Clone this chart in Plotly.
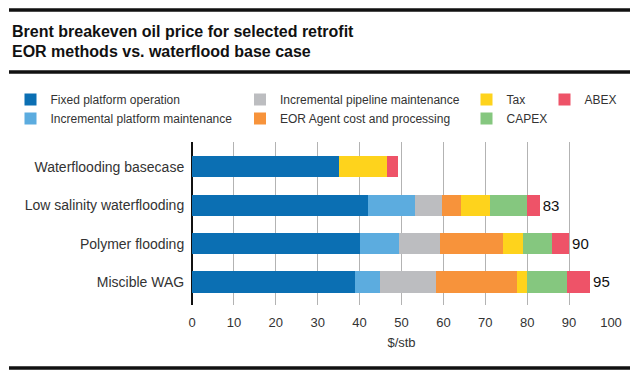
import plotly.graph_objects as go

categories = ["Waterflooding basecase", "Low salinity waterflooding", "Polymer flooding", "Miscible WAG"]

fixed_platform = [35.0, 42.0, 40.1, 38.8]
incr_platform = [0.0, 11.3, 9.3, 6.0]
incr_pipeline = [0.0, 6.3, 9.7, 13.5]
eor_agent = [0.0, 4.6, 15.1, 19.2]
tax = [11.5, 6.9, 4.9, 2.5]
capex = [0.0, 8.9, 6.7, 9.5]
abex = [2.7, 3.0, 4.2, 5.5]
total_labels = ["", "83", "90", "95"]

x_ticks = [0, 10, 20, 30, 40, 50, 60, 70, 80, 90, 100]

series = [
    ("Fixed platform operation", fixed_platform, "#0b6fb3", "legend", 1),
    ("Incremental platform maintenance", incr_platform, "#5cacdf", "legend", 2),
    ("Incremental pipeline maintenance", incr_pipeline, "#bcbdc0", "legend2", 1),
    ("EOR Agent cost and processing", eor_agent, "#f7933b", "legend2", 2),
    ("Tax", tax, "#fed31c", "legend3", 1),
    ("CAPEX", capex, "#85c77f", "legend3", 2),
    ("ABEX", abex, "#ee5368", "legend4", 1),
]

W, H = 640, 378
ML, MR, MT, MB = 192, 29, 142, 73
PW, PH = W - ML - MR, H - MT - MB

def px_x(p):
    return (p - ML) / PW

def px_y(p):
    return (H - MB - p) / PH

fig = go.Figure()
for name, vals, color, leg, rank in series:
    kw = {}
    if name == "ABEX":
        kw = dict(text=total_labels, textposition="outside", cliponaxis=False,
                  textfont=dict(size=15, color="#111", family="Liberation Sans, Arial"))
    fig.add_trace(go.Bar(
        y=categories, x=vals, name=name, orientation="h",
        marker=dict(color=color, line=dict(width=0)),
        legend=leg, legendrank=rank, hoverinfo="skip", **kw
    ))

leg_common = dict(orientation="v", xanchor="left", yanchor="top",
                  font=dict(size=12, color="#333", family="Liberation Sans, Arial"),
                  bgcolor="rgba(0,0,0,0)", itemwidth=30, tracegroupgap=0,
                  xref="container", yref="container", traceorder="normal")
lx = [10.5, 240, 466.5, 544.5]
ly = 1 - 85 / H
fig.update_layout(
    legend=dict(x=lx[0] / W, y=ly, **leg_common),
    legend2=dict(x=lx[1] / W, y=ly, **leg_common),
    legend3=dict(x=lx[2] / W, y=ly, **leg_common),
    legend4=dict(x=lx[3] / W, y=ly, **leg_common),
)

shapes = []
for yy in [10, 72, 368]:
    shapes.append(dict(type="line", xref="paper", yref="paper",
                       x0=px_x(9), x1=px_x(630), y0=px_y(yy), y1=px_y(yy),
                       line=dict(color="#111", width=3.5)))

fig.update_layout(
    width=W, height=H,
    margin=dict(l=ML, r=MR, t=MT, b=MB, pad=0, autoexpand=False),
    paper_bgcolor="white", plot_bgcolor="white",
    barmode="stack", bargap=0.45, showlegend=True,
    title=dict(text="Brent breakeven oil price for selected retrofit<br>EOR methods vs. waterflood base case",
               x=12 / W, xanchor="left", xref="container",
               y=1 - 36.5 / H, yanchor="top", yref="container",
               font=dict(size=16, color="#111", family="Liberation Sans Narrow, Arial Narrow, Arial", weight="bold")),
    xaxis=dict(range=[0, 100], tickvals=x_ticks, showgrid=True, gridcolor="#b3b3b3", gridwidth=1,
               zeroline=True, zerolinecolor="#111", zerolinewidth=1.5,
               ticks="outside", ticklen=5, tickcolor="rgba(0,0,0,0)",
               tickfont=dict(size=13, color="#333", family="Liberation Sans, Arial"),
               title=dict(text="$/stb", standoff=9, font=dict(size=13, color="#333", family="Liberation Sans, Arial")),
               fixedrange=True),
    yaxis=dict(type="category", range=[3.6, -0.65], showgrid=False, zeroline=False,
               ticks="outside", ticklen=4, tickcolor="rgba(0,0,0,0)",
               tickfont=dict(size=14, color="#333", family="Liberation Sans, Arial"),
               fixedrange=True),
    shapes=shapes,
)

fig.write_html("out.html", config={"displayModeBar": False},
               post_script="document.body.style.margin='0';")
